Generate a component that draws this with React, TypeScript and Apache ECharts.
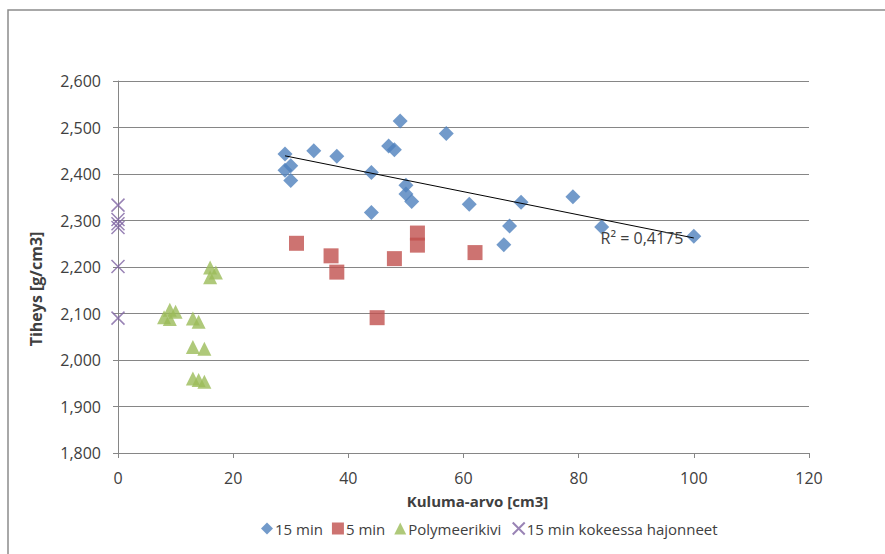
import React, { useEffect, useRef } from "react";
import * as echarts from "echarts";

// 15 min test: wear value [cm3] and density
const min15X = [29, 29, 30, 30, 34, 38, 44, 44, 47, 48, 49, 50, 50, 51, 57, 61, 67, 68, 70, 79, 84, 100];
const min15Y = [2443, 2408, 2418, 2386, 2450, 2438, 2403, 2317, 2460, 2452, 2514, 2376, 2357, 2341, 2487, 2335, 2248, 2288, 2339, 2351, 2286, 2266];

// 5 min test
const min5X = [31, 37, 38, 45, 48, 52, 52, 62];
const min5Y = [2251, 2224, 2189, 2091, 2218, 2273, 2247, 2231];

// Polymer stone
const polyX = [16, 17, 16, 9, 10, 8, 9, 13, 14, 13, 15, 13, 14, 15];
const polyY = [2199, 2188, 2178, 2108, 2104, 2092, 2088, 2089, 2082, 2028, 2024, 1960, 1957, 1953];

// Broken during the 15 min test
const brokenX = [0, 0, 0, 0, 0, 0];
const brokenY = [2333, 2302, 2293, 2285, 2201, 2090];

const seriesNames = ["15 min", "5 min", "Polymeerikivi", "15 min kokeessa hajonneet"];
const xTicks = { min: 0, max: 120, interval: 20 };
const yTicks = { min: 1800, max: 2600, interval: 100 };
const r2Label = "R² = 0,4175";

const pairs = (xs: number[], ys: number[]) => xs.map((x, i) => [x, ys[i]]);

// least-squares linear trend over the 15 min series
function trend(xs: number[], ys: number[]) {
  const n = xs.length;
  const mx = xs.reduce((a, b) => a + b, 0) / n;
  const my = ys.reduce((a, b) => a + b, 0) / n;
  let sxy = 0, sxx = 0;
  for (let i = 0; i < n; i++) {
    sxy += (xs[i] - mx) * (ys[i] - my);
    sxx += (xs[i] - mx) ** 2;
  }
  const b = sxy / sxx;
  const a = my - b * mx;
  const x0 = Math.min(...xs), x1 = Math.max(...xs);
  return [[x0, a + b * x0], [x1, a + b * x1]];
}

const FONT = "'Open Sans', 'Noto Sans', sans-serif";
const TEXT = "#404040";
const AXIS = "#868686";

export default function App() {
  const ref = useRef<HTMLDivElement>(null);

  useEffect(() => {
    if (!ref.current) return;
    const chart = echarts.init(ref.current, undefined, { renderer: "svg" });
    const fmtY = (v: number) => v.toLocaleString("en-US");
    chart.setOption({
      animation: false,
      backgroundColor: "#ffffff",
      textStyle: { fontFamily: FONT },
      graphic: [
        {
          type: "rect",
          shape: { x: 8, y: 10, width: 900, height: 600 },
          style: { fill: "none", stroke: "#8c8c8c", lineWidth: 1.5 },
          silent: true,
        },
      ],
      grid: { left: 118, right: 76, top: 81, bottom: 101 },
      xAxis: {
        type: "value",
        ...xTicks,
        name: "Kuluma-arvo [cm3]",
        nameLocation: "middle",
        nameGap: 40,
        nameTextStyle: {
          fontFamily: FONT,
          fontWeight: "bold",
          fontSize: 15,
          color: TEXT,
          padding: [0, 0, 0, 28],
        },
        axisLine: { show: true, onZero: false, lineStyle: { color: AXIS, width: 1 } },
        axisTick: { show: true, length: 5, lineStyle: { color: AXIS } },
        axisLabel: { fontFamily: FONT, fontSize: 16, color: TEXT, margin: 17 },
        splitLine: { show: false },
      },
      yAxis: {
        type: "value",
        ...yTicks,
        name: "Tiheys [g/cm3]",
        nameLocation: "middle",
        nameGap: 74,
        nameTextStyle: {
          fontFamily: FONT,
          fontWeight: "bold",
          fontSize: 16,
          color: TEXT,
          padding: [0, 44, 0, 0],
        },
        axisLine: { show: true, onZero: false, lineStyle: { color: AXIS, width: 1 } },
        axisTick: { show: true, length: 5, lineStyle: { color: AXIS } },
        axisLabel: { fontFamily: FONT, fontSize: 16, color: TEXT, margin: 17, formatter: fmtY },
        splitLine: { show: true, lineStyle: { color: AXIS, width: 1 } },
      },
      legend: {
        bottom: 12,
        left: 256,
        itemWidth: 12,
        itemHeight: 12,
        itemGap: 9,
        textStyle: { fontFamily: FONT, fontSize: 15, color: TEXT, padding: [0, 0, 0, -3] },
        data: seriesNames,
      },
      series: [
        {
          name: seriesNames[0],
          type: "scatter",
          symbol: "diamond",
          symbolSize: 15,
          itemStyle: { color: "#4F81BD" },
          data: pairs(min15X, min15Y),
          z: 3,
        },
        {
          name: seriesNames[1],
          type: "scatter",
          symbol: "rect",
          symbolSize: 15,
          itemStyle: { color: "#C0504D" },
          data: pairs(min5X, min5Y),
          z: 3,
        },
        {
          name: seriesNames[2],
          type: "scatter",
          symbol: "triangle",
          symbolSize: 14,
          itemStyle: { color: "#9BBB59" },
          data: pairs(polyX, polyY),
          z: 3,
        },
        {
          name: seriesNames[3],
          type: "scatter",
          symbol: "path://M0,0L10,10M10,0L0,10",
          symbolSize: 13,
          itemStyle: { color: "none", borderColor: "#8064A2", borderWidth: 1.5 },
          data: pairs(brokenX, brokenY),
          z: 3,
        },
        {
          name: "trend",
          type: "line",
          symbol: "none",
          lineStyle: { color: "#000000", width: 1 },
          data: trend(min15X, min15Y),
          z: 4,
          markPoint: {
            symbol: "circle",
            symbolSize: 0,
            data: [
              {
                coord: [91, 2262],
                label: {
                  show: true,
                  position: "inside",
                  formatter: r2Label,
                  fontFamily: FONT,
                  fontSize: 16,
                  color: TEXT,
                },
              },
            ],
          },
        },
      ],
    });
    return () => chart.dispose();
  }, []);

  return (
    <div
      ref={ref}
      style={{ position: "absolute", left: 0, top: 0, width: 885, height: 554 }}
    />
  );
}
